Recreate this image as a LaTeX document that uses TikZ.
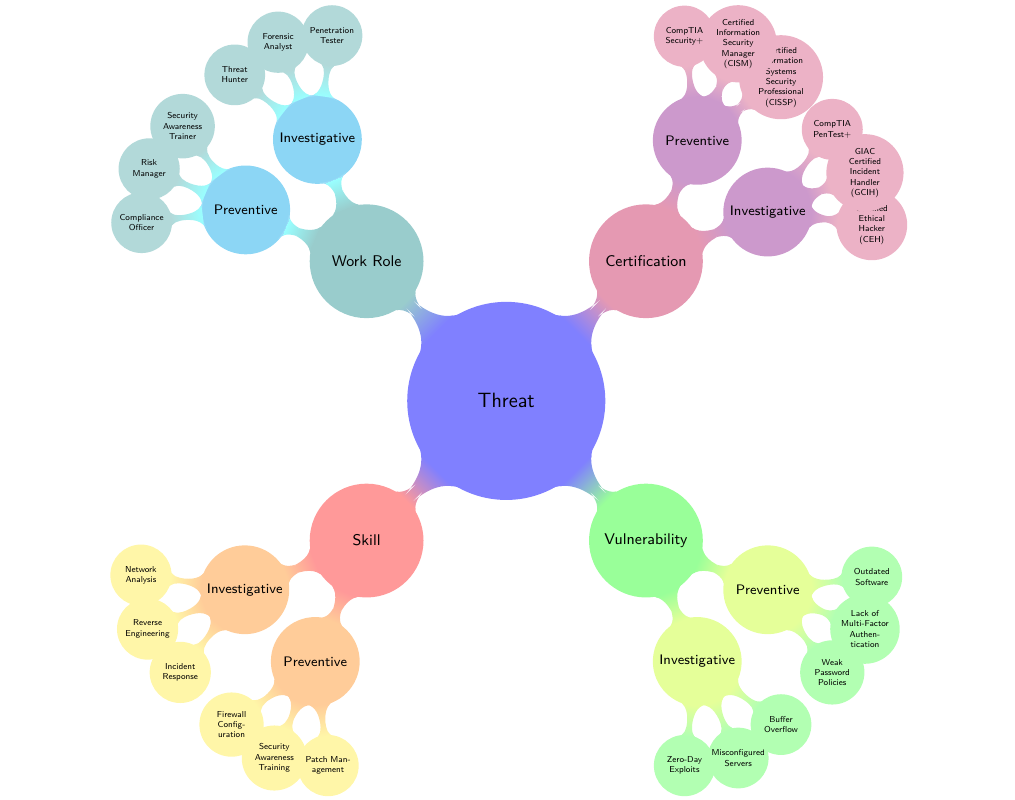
\documentclass[tikz,border=0pt]{standalone}
\usepackage{tikz}
\usetikzlibrary{mindmap}
\renewcommand{\familydefault}{\sfdefault}
\definecolor{R}{RGB}{140,214,245}
\definecolor{Y}{RGB}{255,246,168}
\tikzset{
  rootc/.style={concept,font=\large,minimum size=4cm,text width=3.5cm,inner sep=0pt},
  areac/.style={concept,font=\small,minimum size=2.28cm,text width=2cm,inner sep=0pt},
  kindc/.style={concept,font=\footnotesize,minimum size=1.77cm,text width=1.6cm,inner sep=0pt},
  leafc/.style={concept,font=\tiny,minimum size=1.18cm,text width=1.15cm,inner sep=0pt}
}
\begin{document}
\begin{tikzpicture}[mindmap,concept color=blue!50,every node/.append style={align=center,text=black},
  level 1/.append style={level distance=4.03cm},
  level 2/.append style={level distance=2.68cm},
  level 3/.append style={level distance=2.14cm}]
\useasboundingbox (-10.33,-8.13) rectangle (10.38,8.18);
\node[rootc] (threat) {Threat}
  child[grow=-45,concept color=green!40] {node[areac] (vuln) {Vulnerability}
    child[grow=-67.5,concept color=lime!40] {node[kindc] (vulninv) {Investigative}
      child[grow=-97.5,concept color=green!30] {node[leafc] (zero) {Zero-Day\\Exploits}}
      child[grow=-67.5,concept color=green!30] {node[leafc] (misconf) {Misconfigured\\Servers}}
      child[grow=-37.5,concept color=green!30] {node[leafc] (buffer) {Buffer\\Overflow}}}
    child[grow=-22.5,concept color=lime!40] {node[kindc] (vulnpre) {Preventive}
      child[grow=-52.5,concept color=green!30] {node[leafc] (weak) {Weak\\Password\\Policies}}
      child[grow=-22.5,concept color=green!30] {node[leafc] (mfa) {Lack of\\Multi-Factor\\Authen-\\tication}}
      child[grow=7.5,concept color=green!30] {node[leafc] (outdated) {Outdated\\Software}}}}
  child[grow=45,concept color=purple!40] {node[areac] (cert) {Certification}
    child[grow=22.5,concept color=violet!40] {node[kindc] (certinv) {Investigative}
      child[grow=-7.5,concept color=purple!30] {node[leafc] (ceh) {Certified\\Ethical\\Hacker\\(CEH)}}
      child[grow=22.5,concept color=purple!30] {node[leafc] (gcih) {GIAC\\Certified\\Incident\\Handler\\(GCIH)}}
      child[grow=52.5,concept color=purple!30] {node[leafc] (pentest) {CompTIA\\PenTest+}}}
    child[grow=67.5,concept color=violet!40] {node[kindc] (certpre) {Preventive}
      child[grow=37.5,concept color=purple!30] {node[leafc] (cissp) {Certified\\Information\\Systems\\Security\\Professional\\(CISSP)}}
      child[grow=67.5,concept color=purple!30] {node[leafc] (cism) {Certified\\Information\\Security\\Manager\\(CISM)}}
      child[grow=97.5,concept color=purple!30] {node[leafc] (secplus) {CompTIA\\Security+}}}}
  child[grow=135,concept color=teal!40] {node[areac] (role) {Work Role}
    child[grow=112.5,concept color=cyan!40] {node[kindc,fill=R,draw=R] (roleinv) {Investigative}
      child[grow=82.5,concept color=teal!30] {node[leafc] (pentester) {Penetration\\Tester}}
      child[grow=112.5,concept color=teal!30] {node[leafc] (forensic) {Forensic\\Analyst}}
      child[grow=142.5,concept color=teal!30] {node[leafc] (hunter) {Threat\\Hunter}}}
    child[grow=157.5,concept color=cyan!40] {node[kindc,fill=R,draw=R] (rolepre) {Preventive}
      child[grow=127.5,concept color=teal!30] {node[leafc] (trainer) {Security\\Awareness\\Trainer}}
      child[grow=157.5,concept color=teal!30] {node[leafc] (risk) {Risk\\Manager}}
      child[grow=187.5,concept color=teal!30] {node[leafc] (compliance) {Compliance\\Officer}}}}
  child[grow=225,concept color=red!40] {node[areac] (skill) {Skill}
    child[grow=202.5,concept color=orange!40] {node[kindc] (skillinv) {Investigative}
      child[grow=172.5,concept color=Y] {node[leafc] (network) {Network\\Analysis}}
      child[grow=202.5,concept color=Y] {node[leafc] (reverse) {Reverse\\Engineering}}
      child[grow=232.5,concept color=Y] {node[leafc] (incident) {Incident\\Response}}}
    child[grow=247.5,concept color=orange!40] {node[kindc] (skillpre) {Preventive}
      child[grow=217.5,concept color=Y] {node[leafc] (firewall) {Firewall\\Config-\\uration}}
      child[grow=247.5,concept color=Y] {node[leafc] (awareness) {Security\\Awareness\\Training}}
      child[grow=277.5,concept color=Y] {node[leafc] (patch) {Patch Man-\\agement}}}};
\end{tikzpicture}
\end{document}
